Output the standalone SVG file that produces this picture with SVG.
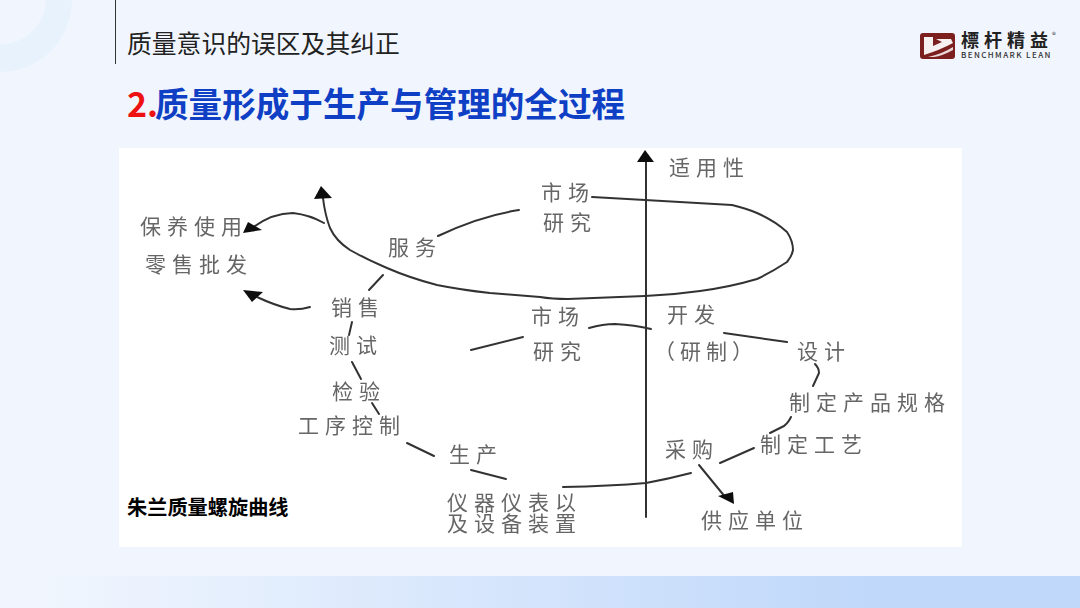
<svg xmlns="http://www.w3.org/2000/svg" width="1080" height="608" viewBox="0 0 1080 608">
<style>
.t{font-family:"Noto Sans CJK SC","Liberation Sans",sans-serif;font-size:21px;letter-spacing:6px;fill:#666}
.l{fill:none;stroke:#333;stroke-width:2;stroke-linecap:round;stroke-linejoin:round}
.a{fill:#111;stroke:none}
.h{font-family:"Noto Sans CJK SC","Liberation Sans",sans-serif}
</style>
<defs>
<linearGradient id="band" x1="0" x2="1" y1="0" y2="0"><stop offset="0.03" stop-color="#f1f6fe"/><stop offset="0.8" stop-color="#c0d8fa"/></linearGradient>
<filter id="soft" x="-5%" y="-5%" width="110%" height="110%"><feGaussianBlur stdDeviation="0.45"/></filter>
</defs>
<rect width="1080" height="608" fill="#f1f6fe"/>
<g id="decor">
<path d="M72 0A72 72 0 0 1 0 72V44A45 45 0 0 0 46 0Z" fill="#e8f2fc"/>
<rect x="0" y="576" width="1080" height="32" fill="url(#band)"/>
<rect x="115" y="0" width="1" height="64" fill="#333"/>
</g>
<g id="header">
<text class="h" x="127" y="53" font-size="24.8" fill="#222">质量意识的误区及其纠正</text>
<text class="h" x="127" y="117" font-size="34" font-weight="700" fill="#ee1111">2.</text>
<text class="h" x="155" y="117" font-size="33.6" font-weight="700" fill="#0f3fc4">质量形成于生产与管理的全过程</text>
</g>
<g id="logo">
<rect x="920" y="33" width="35" height="26" rx="3" fill="#7b1f1f"/>
<path d="M924 37H933V46L942 42L936 39H951L953 43Q940 50 924 55Z" fill="#f6f0f0"/>
<path d="M928 57Q942 54 953 47V50Q942 56 934 57Z" fill="#e9d9d9"/>
<text class="h" font-weight="700" fill="#222"><tspan x="961" y="47" font-size="18" letter-spacing="5">標杆精益</tspan><tspan x="961" y="57.5" font-size="8" font-weight="500" letter-spacing="1.4" fill="#333">BENCHMARK LEAN</tspan></text>
<text class="h" x="1052" y="38" font-size="8" fill="#444">®</text>
</g>
<rect id="panel" x="119" y="148" width="843" height="399" fill="#fff"/>
<g id="connectors" filter="url(#soft)">
<path class="l" d="M646 160V517"/>
<path class="a" d="M645 150L654 162H637Z"/>
<path class="l" d="M592 197L645 200L732 205Q748 209 757 213Q775 221 787 232Q793 241 793 250Q792 256 787 262Q772 272 757 279Q730 287 700 291Q672 295 645 296L568 299Q552 299 540 297L490 293Q462 290 437 285Q410 278 387 268Q366 259 350 250Q336 241 330 228Q325 215 323 198"/>
<path class="a" d="M321 186L332 198L314 199Z"/>
<path class="l" d="M324 223Q310 215 293 213Q272 213 252 228"/>
<path class="a" d="M243 233L248 222L262 230Z"/>
<path class="l" d="M310 307Q300 310 290 309Q274 305 257 297"/>
<path class="a" d="M243 290L263 292L252 302Z"/>
<path class="l" d="M438 236Q480 216 519 210"/>
<path class="l" d="M383 275L369 290"/>
<path class="l" d="M352 322L349 335"/>
<path class="l" d="M352 362L361 379"/>
<path class="l" d="M372 403L379 414"/>
<path class="l" d="M407 443L434 456"/>
<path class="l" d="M471 470L506 479"/>
<path class="l" d="M471 350L523 337"/>
<path class="l" d="M589 328Q603 324 615 324Q635 325 651 329"/>
<path class="l" d="M724 333L787 342"/>
<path class="l" d="M815 364Q819 368 819 373L813 386"/>
<path class="l" d="M791 417Q787 425 782 427L770 433"/>
<path class="l" d="M754 448L720 463"/>
<path class="l" d="M691 473Q668 479 646 483Q610 486 563 487"/>
<path class="l" d="M699 465L726 498" stroke-width="2.4"/>
<path class="a" d="M734 504L718 496L733 492Z"/>
</g>
<g id="labels" filter="url(#soft)">
<g id="n-shiyongxing"><text class="t" x="669" y="175">适用性</text></g>
<g id="n-shichang1"><text class="t" x="541" y="200">市场</text></g>
<g id="n-yanjiu1"><text class="t" x="543" y="230">研究</text></g>
<g id="n-fuwu"><text class="t" x="388" y="255">服务</text></g>
<g id="n-baoyang"><text class="t" x="140" y="234">保养使用</text></g>
<g id="n-lingshou"><text class="t" x="145" y="272">零售批发</text></g>
<g id="n-xiaoshou"><text class="t" x="331" y="315">销售</text></g>
<g id="n-ceshi"><text class="t" x="329" y="353">测试</text></g>
<g id="n-jianyan"><text class="t" x="332" y="399">检验</text></g>
<g id="n-gongxu"><text class="t" x="298" y="433">工序控制</text></g>
<g id="n-shengchan"><text class="t" x="449" y="462">生产</text></g>
<g id="n-yiqi"><text class="t"><tspan x="447" y="510">仪器仪表以</tspan><tspan x="447" y="531">及设备装置</tspan></text></g>
<g id="n-shichang2"><text class="t" x="531" y="324">市场</text></g>
<g id="n-yanjiu2"><text class="t" x="533" y="359">研究</text></g>
<g id="n-kaifa"><text class="t" x="667" y="322">开发</text></g>
<g id="n-yanzhi"><text class="t" x="654" y="359" style="letter-spacing:5px">（研制）</text></g>
<g id="n-sheji"><text class="t" x="797" y="359">设计</text></g>
<g id="n-guige"><text class="t" x="789" y="410">制定产品规格</text></g>
<g id="n-gongyi"><text class="t" x="760" y="452">制定工艺</text></g>
<g id="n-caigou"><text class="t" x="665" y="457">采购</text></g>
<g id="n-gongying"><text class="t" x="701" y="528">供应单位</text></g>
</g>
<text class="h" x="127" y="515" font-size="20.2" font-weight="700" fill="#000">朱兰质量螺旋曲线</text>
</svg>
